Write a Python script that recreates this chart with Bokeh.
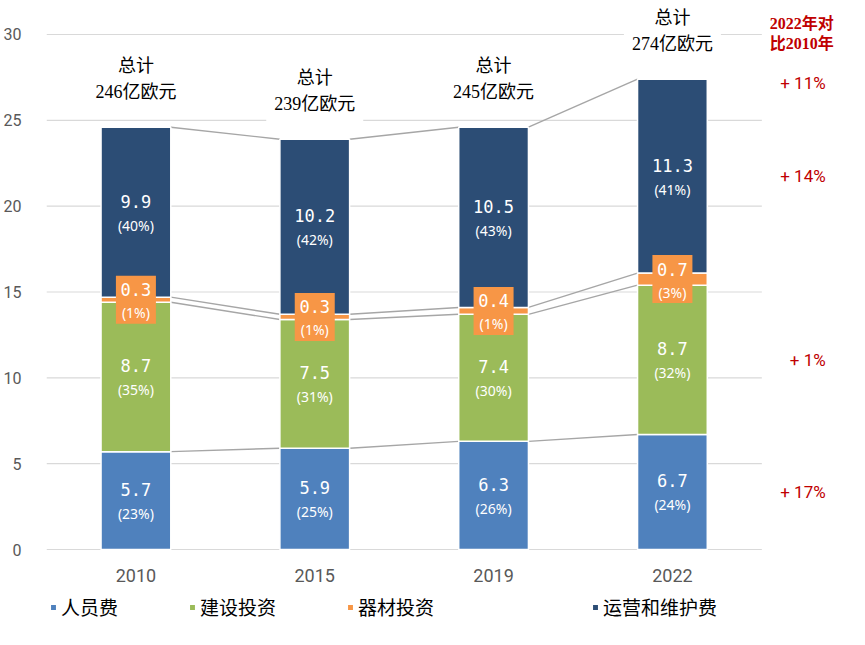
from bokeh.plotting import figure
from bokeh.models import Range1d, Legend, LegendItem
from bokeh.core.properties import value
from bokeh.embed import file_html
from bokeh.resources import INLINE

# ---- data ----
categories = ["2010", "2015", "2019", "2022"]
series_names = ["人员费", "建设投资", "器材投资", "运营和维护费"]
personnel = [5.7, 5.9, 6.3, 6.7]
construction = [8.7, 7.5, 7.4, 8.7]
equipment = [0.3, 0.3, 0.4, 0.7]
operation = [9.9, 10.2, 10.5, 11.3]
pct_personnel = ["(23%)", "(25%)", "(26%)", "(24%)"]
pct_construction = ["(35%)", "(31%)", "(30%)", "(32%)"]
pct_equipment = ["(1%)", "(1%)", "(1%)", "(3%)"]
pct_operation = ["(40%)", "(42%)", "(43%)", "(41%)"]
total_labels = ["246", "239", "245", "274"]
change_labels = ["+ 17%", "+ 1%", None, "+ 14%"]
change_total = "+ 11%"
change_header = "2022年对\n比2010年"
y_ticks = [0, 5, 10, 15, 20, 25, 30]

colors = ["#4F81BD", "#9BBB59", "#F79646", "#2C4D75"]
series = [personnel, construction, equipment, operation]
pcts = [pct_personnel, pct_construction, pct_equipment, pct_operation]

xs = list(range(len(categories)))
bottoms, tops = [], []
acc = [0.0] * len(categories)
for s in series:
    bottoms.append(acc[:])
    acc = [a + v for a, v in zip(acc, s)]
    tops.append(acc[:])
mids = [[(b + t) / 2 for b, t in zip(bs, ts)] for bs, ts in zip(bottoms, tops)]

W = 0.39
CJK = "Noto Sans CJK SC"
SERIF_CJK = "Liberation Serif, Noto Sans CJK SC"

# layout geometry (pixels)
FIG_W, FIG_H = 849, 637
LEFT = 43
PX_X = 179.5          # pixels per category
PX_Y = 17.1667        # pixels per unit
Y0_PX = 549           # pixel row of value 0
x_end = -0.5 + (FIG_W - LEFT) / PX_X
y_end = Y0_PX / PX_Y
y_start = -(FIG_H - Y0_PX) / PX_Y

p = figure(width=FIG_W, height=FIG_H, x_range=Range1d(-0.5, x_end), y_range=Range1d(y_start, y_end),
           output_backend="svg", toolbar_location=None, title=None,
           min_border_left=LEFT, min_border_right=0, min_border_top=0, min_border_bottom=0)
p.outline_line_color = None
p.background_fill_color = "white"
p.border_fill_color = "white"

# axes
p.yaxis.ticker = y_ticks
p.yaxis.axis_line_color = None
p.yaxis.major_tick_line_color = None
p.yaxis.minor_tick_line_color = None
p.yaxis.major_label_standoff = 19
p.yaxis.major_label_text_font = "Roboto"
p.yaxis.major_label_text_font_size = "16px"
p.yaxis.major_label_text_color = "#595959"

p.xaxis.fixed_location = 0
p.xaxis.ticker = xs
p.xaxis.major_label_overrides = {i: c for i, c in zip(xs, categories)}
p.xaxis.axis_line_color = None
p.xaxis.major_tick_line_color = None
p.xaxis.minor_tick_line_color = None
p.xaxis.major_label_standoff = 13
p.xaxis.major_label_text_font = "Roboto"
p.xaxis.major_label_text_font_size = "18px"
p.xaxis.major_label_text_color = "#595959"

p.xgrid.visible = False
p.ygrid.visible = False

# horizontal grid lines spanning the category area
gx0 = xs[0] - 0.5
gx1 = xs[-1] + 0.5
p.segment(x0=[gx0] * len(y_ticks), y0=y_ticks, x1=[gx1] * len(y_ticks), y1=y_ticks,
          line_color="#D9D9D9", line_width=1.2)

# connector lines between bar segments
cx0, cy0, cx1, cy1 = [], [], [], []
for k in range(len(series)):
    for i in range(len(xs) - 1):
        cx0.append(xs[i] + W / 2)
        cy0.append(tops[k][i])
        cx1.append(xs[i + 1] - W / 2)
        cy1.append(tops[k][i + 1])
p.segment(cx0, cy0, cx1, cy1, line_color="#A6A6A6", line_width=1.4)

# bars
renderers = []
for k in range(len(series)):
    r = p.vbar(x=xs, bottom=bottoms[k], top=tops[k], width=W,
               fill_color=colors[k], line_color="white", line_width=1.5)
    renderers.append(r)

# value labels
for k in [0, 1, 3]:
    p.text(x=xs, y=mids[k], text=["%.1f" % v for v in series[k]],
           text_align="center", text_baseline="middle", y_offset=-11,
           text_font=value("DejaVu Sans Mono"), text_font_size="17px", text_color="white")
    p.text(x=xs, y=mids[k], text=pcts[k],
           text_align="center", text_baseline="middle", y_offset=13,
           text_font=value("Noto Sans"), text_font_size="14px", text_color="white")

# equipment label boxes
p.rect(x=xs, y=mids[2], width=40, height=48, width_units="screen", height_units="screen",
       fill_color=colors[2], line_color=None)
p.text(x=xs, y=mids[2], text=["%.1f" % v for v in series[2]],
       text_align="center", text_baseline="middle", y_offset=-10,
       text_font=value("DejaVu Sans Mono"), text_font_size="17px", text_color="white")
p.text(x=xs, y=mids[2], text=pcts[2],
       text_align="center", text_baseline="middle", y_offset=13,
       text_font=value("Noto Sans"), text_font_size="14px", text_color="white")

# totals
p.text(x=xs, y=tops[-1], text=["总计\n%s亿欧元" % t for t in total_labels],
       text_align="center", text_baseline="bottom", y_offset=-17,
       text_font=value(SERIF_CJK), text_font_size="18px", text_color="black",
       text_line_height=1.3, background_fill_color="white", padding=8)

# right-hand comparison annotations
XR = 3.857   # right edge of the change labels
XH = 3.723   # centre of the header
ck = [k for k, lab in enumerate(change_labels) if lab]
p.text(x=[XR] * len(ck), y=[mids[k][-1] for k in ck], text=[change_labels[k] for k in ck],
       text_align="right", text_baseline="middle", text_color="#C00000",
       text_font=value("Roboto"), text_font_size="17px")
p.text(x=[XR], y=[tops[-1][-1]], y_offset=4, text=[change_total],
       text_align="right", text_baseline="middle", text_color="#C00000",
       text_font=value("Roboto"), text_font_size="17px")
p.text(x=[XH], y=[30.06], text=[change_header],
       text_align="center", text_baseline="middle", text_color="#C00000", text_font_style="bold",
       text_font=value(SERIF_CJK), text_font_size="16px", text_line_height=1.15)

# legends
leg_common = dict(orientation="horizontal", glyph_width=8, glyph_height=8, label_standoff=4,
                  padding=0, margin=0, border_line_color=None, background_fill_alpha=0,
                  label_text_font=CJK, label_text_font_size="19px",
                  label_text_color="black")
legA = Legend(items=[LegendItem(label=series_names[k], renderers=[renderers[k]]) for k in range(3)],
              location=(3, 17), spacing=70, **leg_common)
legB = Legend(items=[LegendItem(label=series_names[3], renderers=[renderers[3]])],
              location=(545, 17), **leg_common)
p.add_layout(legA)
p.add_layout(legB)

open("out.html", "w").write(file_html(p, INLINE))
